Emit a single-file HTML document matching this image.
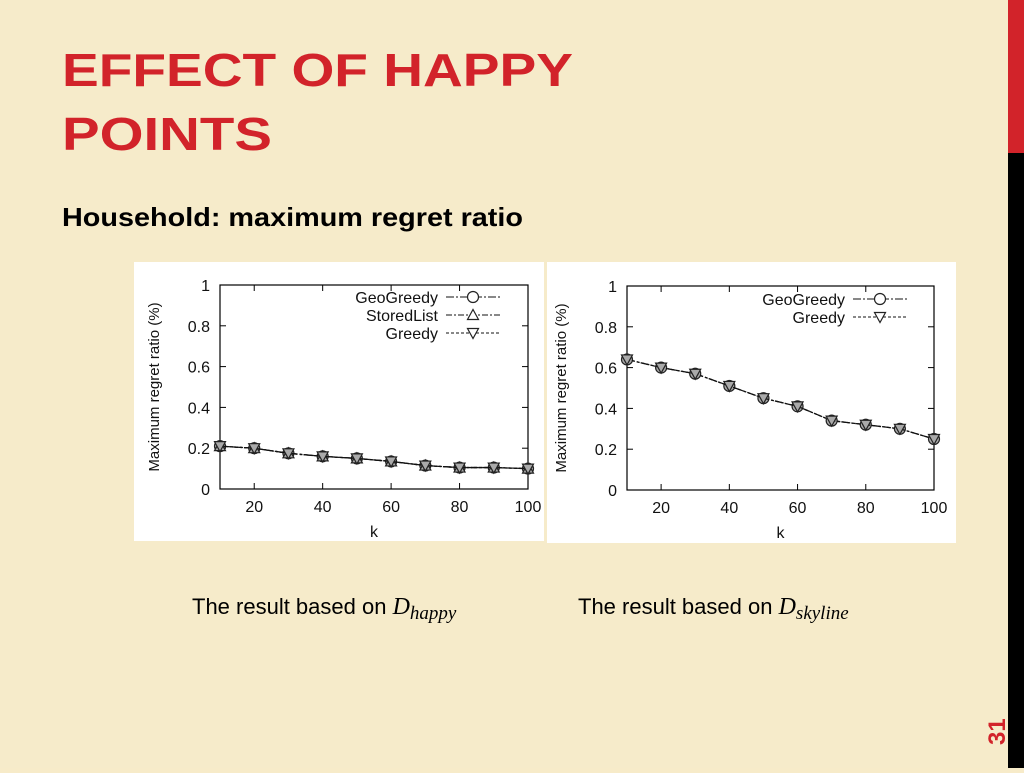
<!DOCTYPE html>
<html><head><meta charset="utf-8"><style>
body{margin:0;width:1024px;height:768px;overflow:hidden;background:#f7ebc9;font-family:"Liberation Sans",sans-serif;}
</style></head><body>
<svg width="1024" height="768" xmlns="http://www.w3.org/2000/svg">
<rect width="1024" height="768" fill="#f6ebca"/>
<rect x="1008" y="0" width="16" height="153" fill="#d2232a"/>
<rect x="1008" y="153" width="16" height="615" fill="#000"/>
<text x="62" y="86" font-size="46" font-weight="bold" fill="#d2232a" textLength="511" lengthAdjust="spacingAndGlyphs">EFFECT OF HAPPY</text>
<text x="62" y="150" font-size="46" font-weight="bold" fill="#d2232a" textLength="210" lengthAdjust="spacingAndGlyphs">POINTS</text>
<text x="62" y="226" font-size="26" font-weight="bold" fill="#000" textLength="461" lengthAdjust="spacingAndGlyphs">Household:  maximum regret ratio</text>
<text transform="translate(1005,745) rotate(-90)" font-size="24" font-weight="bold" fill="#d2232a">31</text>
<text x="192" y="614" font-size="22" fill="#000">The result based on <tspan font-family="Liberation Serif" font-style="italic" font-size="24">D</tspan><tspan font-family="Liberation Serif" font-style="italic" font-size="19" dy="5">happy</tspan></text>
<text x="578" y="614" font-size="22" fill="#000">The result based on <tspan font-family="Liberation Serif" font-style="italic" font-size="24">D</tspan><tspan font-family="Liberation Serif" font-style="italic" font-size="19" dy="5">skyline</tspan></text>
<g id="c1"></g>
<g id="c2"></g>
</svg>
<script>
const kValues=[10,20,30,40,50,60,70,80,90,100];
const happyGeo=[0.21,0.20,0.175,0.16,0.15,0.135,0.115,0.105,0.105,0.10];
const happyStored=[0.21,0.20,0.175,0.16,0.15,0.135,0.115,0.105,0.105,0.10];
const happyGreedy=[0.21,0.20,0.175,0.16,0.15,0.135,0.115,0.105,0.105,0.10];
const skyGeo=[0.64,0.60,0.57,0.51,0.45,0.41,0.34,0.32,0.30,0.25];
const skyGreedy=[0.64,0.60,0.57,0.51,0.45,0.41,0.34,0.32,0.30,0.25];
const yTicks=[0,0.2,0.4,0.6,0.8,1];
const yTickLabels=["0","0.2","0.4","0.6","0.8","1"];
const xTicks=[20,40,60,80,100];
const NS="http://www.w3.org/2000/svg";
function mk(p,t,a){const e=document.createElementNS(NS,t);for(const k in a)e.setAttribute(k,a[k]);p.appendChild(e);return e;}
function chart(g,box,L,R,T,B,series,legendX,legendY){
  const bg=mk(g,'rect',{x:box[0],y:box[1],width:box[2],height:box[3],fill:'#fff'});
  
  
  const xs=v=>L+(v-10)/90*(R-L), ys=v=>B-v*(B-T);
  const fr=mk(g,'rect',{x:L,y:T,width:R-L,height:B-T,fill:'none',stroke:'#000','stroke-width':1.2});
  
  
  yTicks.forEach((v,i)=>{
    mk(g,'line',{x1:L,x2:L+6,y1:ys(v),y2:ys(v),stroke:'#000'});
    mk(g,'line',{x1:R,x2:R-6,y1:ys(v),y2:ys(v),stroke:'#000'});
    const t=mk(g,'text',{x:L-10,y:ys(v)+6,'text-anchor':'end','font-size':16,fill:'#111'});
    t.textContent=yTickLabels[i];
    
    
  });
  xTicks.forEach(v=>{
    mk(g,'line',{x1:xs(v),x2:xs(v),y1:B,y2:B-6,stroke:'#000'});
    mk(g,'line',{x1:xs(v),x2:xs(v),y1:T,y2:T+6,stroke:'#000'});
    const t=mk(g,'text',{x:xs(v),y:B+23,'text-anchor':'middle','font-size':16,fill:'#111'});
    t.textContent=String(v);
    
    
  });
  const xt=mk(g,'text',{x:(L+R)/2,y:B+48,'text-anchor':'middle','font-size':16,fill:'#111'});
  xt.textContent='k';
  
  
  const yt=mk(g,'text',{transform:`translate(${L-61},${(T+B)/2}) rotate(-90)`,'text-anchor':'middle','font-size':15,fill:'#111'});
  yt.textContent='Maximum regret ratio (%)';
  
  
  series.forEach((s,si)=>{
    const pts=kValues.map((k,i)=>xs(k)+','+ys(s.vals[i])).join(' ');
    const pl=mk(g,'polyline',{points:pts,fill:'none',stroke:'#111','stroke-width':1.3,'stroke-dasharray':s.dash});
    
    
    kValues.forEach((k,i)=>{
      const m=marker(g,s.m,xs(k),ys(s.vals[i]));
      
      
    });
    const ly=legendY+si*18;
    const lt=mk(g,'text',{x:legendX,y:ly+6,'text-anchor':'end','font-size':16,fill:'#111'});
    lt.textContent=s.name;
    
    
    mk(g,'line',{x1:legendX+8,x2:legendX+62,y1:ly,y2:ly,stroke:'#111','stroke-dasharray':s.dash});
    marker(g,s.m,legendX+35,ly,true);
  });
}
function marker(g,type,x,y,leg){
  const f=leg?'#fff':'#aaa';
  if(type==='c')return mk(g,'circle',{cx:x,cy:y,r:5.5,fill:f,stroke:'#222','stroke-width':1.2});
  if(type==='u')return mk(g,'polygon',{points:`${x-5.5},${y+4.5} ${x+5.5},${y+4.5} ${x},${y-5.5}`,fill:f,stroke:'#222','stroke-width':1.2});
  return mk(g,'polygon',{points:`${x-5.5},${y-4.5} ${x+5.5},${y-4.5} ${x},${y+5.5}`,fill:f,stroke:'#222','stroke-width':1.2});
}
chart(document.getElementById('c1'),[134,262,410,279],220,528,285,489,[
 {id:'greedy',name:'Greedy',vals:happyGreedy,m:'d',dash:'3,2'},
 {id:'storedlist',name:'StoredList',vals:happyStored,m:'u',dash:'6,2,2,2'},
 {id:'geogreedy',name:'GeoGreedy',vals:happyGeo,m:'c',dash:'8,2,2,2'}
].reverse(),438,297);
chart(document.getElementById('c2'),[547,262,409,281],627,934,286,490,[
 {id:'greedy',name:'Greedy',vals:skyGreedy,m:'d',dash:'3,2'},
 {id:'geogreedy',name:'GeoGreedy',vals:skyGeo,m:'c',dash:'8,2,2,2'}
].reverse(),845,299);
</script>
</body></html>
